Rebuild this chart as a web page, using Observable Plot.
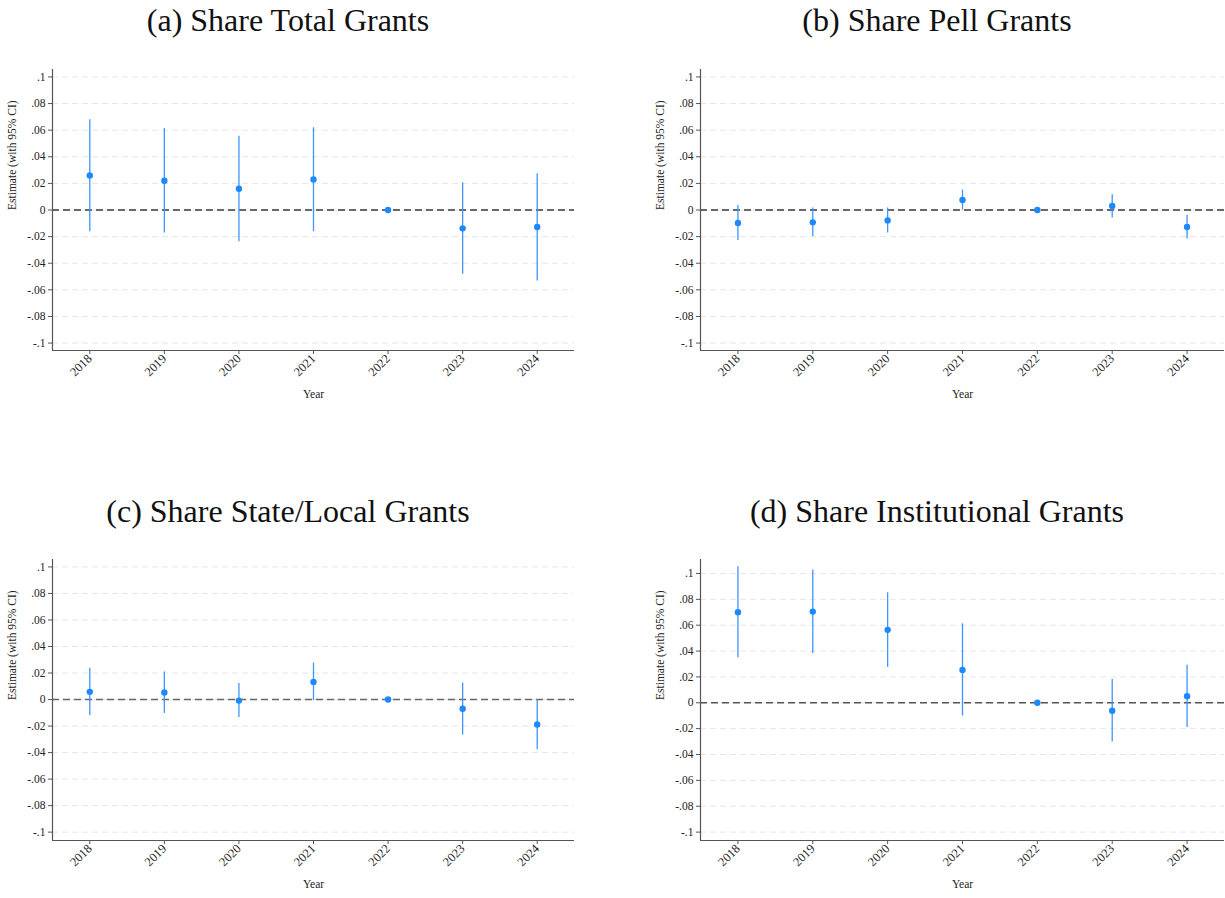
<!DOCTYPE html>
<html>
<head>
<meta charset="utf-8">
<script src="https://cdn.jsdelivr.net/npm/d3@7"></script>
<script src="https://cdn.jsdelivr.net/npm/@observablehq/plot@0.6"></script>
<style>
  html, body { margin: 0; padding: 0; background: #fff; }
  #fig { position: relative; width: 1225px; height: 898px; background: #fff; overflow: hidden; }
  .title { position: absolute; width: 600px; height: 40px; line-height: 40px; text-align: center;
           font-family: "Liberation Serif", serif; font-size: 32px; color: #111; white-space: nowrap; }
  .panel { position: absolute; }
</style>
</head>
<body>
<div id="fig"></div>
<script>
// Event-study estimates by year (2022 is the omitted reference year)
const years = [2018, 2019, 2020, 2021, 2022, 2023, 2024];
const yTicks = [-0.1, -0.08, -0.06, -0.04, -0.02, 0, 0.02, 0.04, 0.06, 0.08, 0.1];

// (a) Share Total Grants
const totalEst = [0.026, 0.022, 0.016, 0.023, 0, -0.0138, -0.0128];
const totalLo  = [-0.0163, -0.0173, -0.0238, -0.0163, 0, -0.0483, -0.0533];
const totalHi  = [0.0678, 0.0613, 0.0555, 0.0618, 0, 0.0205, 0.0273];

// (b) Share Pell Grants
const pellEst = [-0.0098, -0.0093, -0.0078, 0.0075, 0, 0.003, -0.0128];
const pellLo  = [-0.023, -0.02, -0.0173, 0.0, 0, -0.006, -0.0218];
const pellHi  = [0.0033, 0.0015, 0.0015, 0.015, 0, 0.0115, -0.004];

// (c) Share State/Local Grants
const stateEst = [0.0058, 0.0053, -0.0008, 0.0133, 0, -0.007, -0.0188];
const stateLo  = [-0.012, -0.0105, -0.0135, -0.0008, 0, -0.0268, -0.0378];
const stateHi  = [0.0235, 0.0208, 0.012, 0.0275, 0, 0.0125, 0.0];

// (d) Share Institutional Grants
const instEst = [0.070, 0.0705, 0.0564, 0.0254, 0, -0.0062, 0.0051];
const instLo  = [0.0349, 0.0382, 0.0274, -0.0103, 0, -0.0303, -0.0192];
const instHi  = [0.1051, 0.1026, 0.0851, 0.061, 0, 0.018, 0.029];

const panels = [
  {title: "(a) Share Total Grants", est: totalEst, lo: totalLo, hi: totalHi,
   left: 0, top: 60, width: 600, titleX: 288, titleTop: 0, yDomain: [-0.1056, 0.1056], zero: "#3a3a3a"},
  {title: "(b) Share Pell Grants", est: pellEst, lo: pellLo, hi: pellHi,
   left: 648, top: 60, width: 577, titleX: 937, titleTop: 0, yDomain: [-0.1056, 0.1056], zero: "#3a3a3a"},
  {title: "(c) Share State/Local Grants", est: stateEst, lo: stateLo, hi: stateHi,
   left: 0, top: 550, width: 600, titleX: 288, titleTop: 491, yDomain: [-0.1063, 0.1056], zero: "#666"},
  {title: "(d) Share Institutional Grants", est: instEst, lo: instLo, hi: instHi,
   left: 648, top: 550, width: 577, titleX: 937, titleTop: 491, yDomain: [-0.1065, 0.1108], zero: "#555"}
];

// Stata-style tick labels: drop the leading zero (".02", "-.04")
const fmtY = d => d === 0 ? "0" : String(+d.toFixed(2)).replace("0.", ".");

const fig = document.getElementById("fig");
const xDomain = [2017.5, 2024.5];

for (const p of panels) {
  const rows = years.map((year, i) => ({year, est: p.est[i], lo: p.lo[i], hi: p.hi[i]}));
  const marginRight = p.width === 600 ? 26 : 1;

  const chart = Plot.plot({
    width: p.width,
    height: 345,
    marginLeft: 52,
    marginRight,
    marginTop: 9,
    marginBottom: 55,
    style: {fontFamily: "Liberation Serif, serif", fontSize: "11px", color: "#222", background: "transparent", overflow: "visible"},
    x: {domain: xDomain, label: null},
    y: {domain: p.yDomain, label: null},
    marks: [
      Plot.gridY(yTicks, {stroke: "#e6e6e6", strokeOpacity: 1, strokeDasharray: "6,4"}),
      Plot.ruleY([0], {stroke: p.zero, strokeWidth: 1.4, strokeDasharray: "7,4"}),
      Plot.ruleX(rows.filter(d => d.hi !== d.lo), {x: "year", y1: "lo", y2: "hi", stroke: "#3d95ff", strokeWidth: 1.3}),
      Plot.dot(rows, {x: "year", y: "est", r: 3.2, fill: "#1e88ff", stroke: null}),
      // axis lines on the left and bottom of the plot region
      Plot.ruleX([xDomain[0]], {stroke: "#555", strokeWidth: 1.2}),
      Plot.ruleY([p.yDomain[0]], {stroke: "#555", strokeWidth: 1.2}),
      Plot.axisY({ticks: yTicks, tickFormat: fmtY, tickSize: 4, tickPadding: 3, stroke: "#555", label: null, fill: "#222", fontSize: 11.5}),
      Plot.axisX({ticks: years, tickFormat: d => String(d), tickSize: 4, tickPadding: 2, tickRotate: -45, stroke: "#555", label: null, fill: "#222", fontSize: 12.5}),
      Plot.text(["Year"], {frameAnchor: "bottom", lineAnchor: "middle", dy: 44, fill: "#222", fontSize: 11.5}),
      Plot.text(["Estimate (with 95% CI)"], {frameAnchor: "left", rotate: -90, dx: -40, fill: "#222", fontSize: 11.5})
    ]
  });
  chart.classList.add("panel");
  chart.style.left = p.left + "px";
  chart.style.top = p.top + "px";
  fig.appendChild(chart);

  const t = document.createElement("div");
  t.className = "title";
  t.textContent = p.title;
  t.style.left = (p.titleX - 300) + "px";
  t.style.top = p.titleTop + "px";
  fig.appendChild(t);
}
</script>
</body>
</html>
